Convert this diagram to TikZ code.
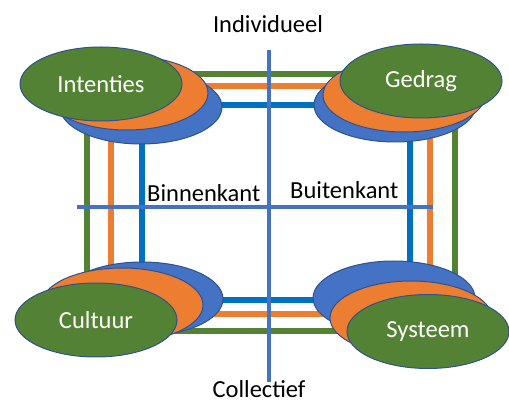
\documentclass[tikz,border=0pt]{standalone}
\usepackage{fontspec}
\setmainfont{Carlito}
\usetikzlibrary{shapes.geometric}
\definecolor{ogreen}{HTML}{548235}
\definecolor{oorange}{HTML}{ED7D31}
\definecolor{oblue}{HTML}{0070C0}
\definecolor{eblue}{HTML}{4472C4}
\definecolor{edge}{HTML}{2F528F}
\tikzset{
  frame/.style={line width=6pt},
  axis/.style={line width=3.5pt, draw=eblue},
  oval/.style={ellipse, draw=edge, line width=1pt, inner sep=0pt, minimum width=162pt, minimum height=74pt},
  gov/.style={oval, fill=ogreen, text=white, font=\fontsize{24.5}{28}\selectfont},
  oov/.style={oval, fill=oorange},
  bov/.style={oval, fill=eblue},
  lbl/.style={inner sep=0pt, font=\fontsize{24.5}{28}\selectfont}
}
\begin{document}
\begin{tikzpicture}[x=1pt,y=-1pt]
\useasboundingbox (0,0) rectangle (509,403);
% frames
\draw[frame, draw=ogreen] (87,74.5) rectangle (455,331.5);
\draw[frame, draw=oorange] (110.5,86.5) rectangle (429.5,314.5);
\draw[frame, draw=oblue] (142,105) rectangle (410,300);
% axes
\coordinate (vt) at (269,50);
\coordinate (vb) at (269,382);
\coordinate (hl) at (77,207);
\coordinate (hr) at (433,207);
\draw[axis] (vt) -- (vb);
\draw[axis] (hl) -- (hr);
% labels
\node[lbl, anchor=base] (ind) at (268,33) {Individueel};
\node[lbl, anchor=base] (col) at (259,397.5) {Collectief};
\node[lbl, anchor=base west] (bin) at (147,202) {Binnenkant};
\node[lbl, anchor=base west] (bui) at (290,199) {Buitenkant};
% top-left
\node[bov] (ib) at (141,107) {};
\node[oov] (io) at (127,93) {};
\node[gov] (ig) at (101,84) {Intenties};
% top-right
\node[bov] (gb) at (395,105) {};
\node[oov] (go) at (404,95) {};
\node[gov] (gg) at (421,81) {Gedrag};
% bottom-left
\node[bov] (cb) at (142,299) {};
\node[oov] (co) at (122,305) {};
\node[gov] (cg) at (96,320) {Cultuur};
% bottom-right
\node[bov] (sb) at (394,298) {};
\node[oov] (so) at (411,318) {};
\node[gov] (sg) at (428,331.5) {Systeem};
\end{tikzpicture}
\end{document}
